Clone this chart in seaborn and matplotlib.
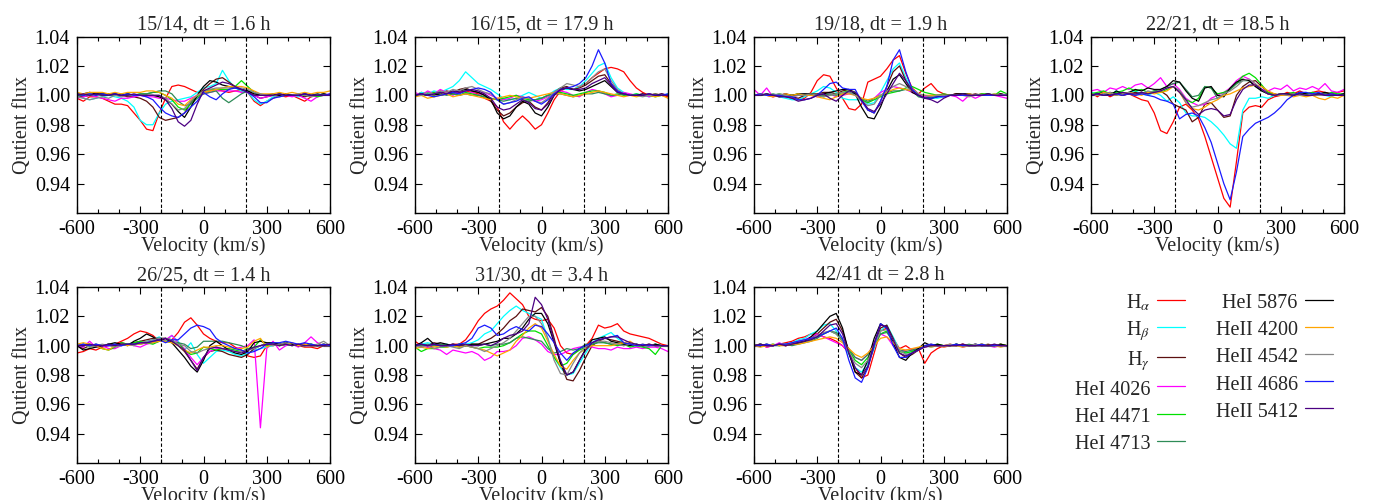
import numpy as np
import pandas as pd
import matplotlib
matplotlib.use("Agg")
import matplotlib.pyplot as plt
import seaborn as sns
from matplotlib.lines import Line2D
from matplotlib.ticker import MultipleLocator, FormatStrFormatter, FixedLocator

# ---------------- data ----------------
velocity = list(range(-600, 601, 30))  # km/s

line_keys = ["Ha", "Hb", "Hg", "HeI4026", "HeI4471", "HeI4713", "HeI5876",
             "HeII4200", "HeII4542", "HeII4686", "HeII5412"]
line_labels = ["H$_\\alpha$", "H$_\\beta$", "H$_\\gamma$", "HeI 4026", "HeI 4471",
               "HeI 4713", "HeI 5876", "HeII 4200", "HeII 4542", "HeII 4686", "HeII 5412"]
line_colors = ["#ff0000", "#00ffff", "#5c1010", "#ff00ff", "#00e000", "#2e8b57",
               "#000000", "#ffa500", "#888888", "#1a1aff", "#4b0082"]

panel_titles = ["15/14, dt = 1.6 h", "16/15, dt = 17.9 h", "19/18, dt = 1.9 h",
                "22/21, dt = 18.5 h", "26/25, dt = 1.4 h", "31/30, dt = 3.4 h",
                "42/41 dt = 2.8 h"]

# quotient flux deviations from 1, in units of 0.001 (per mille)
p15_14 = {
    "Ha":       [-2,-4,-1,-1,-2,-4,-6,-6,-7,-12, -17,-23,-24,-12,-2,6,7,6,4,2, 1, 3,4,3,2,3,3,2,-4,-7,-4, -2,0,-1,0,-2,-4,-1,0,1,0],
    "Hb":       [0,-2,-3,-2,-1,0,-1,-2,-4,-8, -17,-20,-20,-12,-6,-4,-3,-2,-1,2, 5, 6,8,17,10,5,3,2,-3,-6,-4, -1,0,1,0,-1,0,0,1,0,0],
    "Hg":       [0,-1,0,1,0,1,0,0,-1,-1, -2,-4,-8,-15,-17,-16,-15,-12,-5,0, 4, 8,11,12,9,6,4,3,0,-2,-1, 0,0,1,0,0,-1,0,1,0,0],
    "HeI4026":  [-2,-1,0,-1,-2,-3,-4,-2,-2,-1, 0,-1,-1,-2,-2,-3,-4,-4,-2,0, 1, 2,3,3,3,3,2,2,0,-2,-1, 0,1,0,-1,0,-2,-4,-1,0,1],
    "HeI4471":  [0,1,0,1,0,0,1,0,1,0, 1,1,2,2,0,-3,-8,-10,-6,-1, 2, 4,4,4,4,6,10,6,2,0,0, 0,1,0,0,1,0,0,-1,0,0],
    "HeI4713":  [0,0,1,0,1,0,0,1,0,0, 1,1,2,3,3,1,-4,-7,-6,-2, 1, 2,3,-2,-5,-2,1,3,2,0,0, 0,1,0,0,0,1,0,0,1,0],
    "HeI5876":  [1,1,2,1,1,1,1,0,1,0, 0,0,0,-1,-3,-6,-11,-15,-8,0, 6, 10,9,7,6,5,4,3,1,0,0, 1,0,1,0,0,1,0,0,1,0],
    "HeII4200": [2,1,2,2,2,1,2,1,2,2, 2,3,3,2,0,-2,-6,-7,-3,0, 2, 3,4,5,6,6,6,5,3,1,1, 1,2,1,2,1,2,1,2,2,3],
    "HeII4542": [-1,-2,-3,-2,-1,-2,0,-1,0,0, 0,0,0,0,-2,-6,-10,-9,-4,0, 3, 4,5,5,5,5,5,4,2,1,0, 0,-1,0,0,1,0,-1,0,0,0],
    "HeII4686": [1,0,1,0,1,0,1,0,1,0, 0,-1,-3,-8,-12,-14,-15,-12,-8,-4, 2, -1,-3,1,4,5,4,2,-1,-5,-5, -2,-1,0,0,0,1,0,0,0,1],
    "HeII5412": [0,1,0,1,0,0,1,0,0,1, 0,0,0,0,-3,-9,-18,-21,-17,-6, 3, 5,7,9,8,6,4,2,0,0,0, 0,1,0,0,0,1,0,0,0,0],
}

p16_15 = {
    "Ha":       [0,2,1,0,3,2,1,2,3,2, 1,-2,-4,-8,-18,-23,-18,-14,-18,-23, -20, -12,-3,3,5,4,6,8,12,15,18, 19,18,16,10,5,2,0,1,0,-1],
    "Hb":       [0,2,1,3,2,4,6,10,16,12, 8,6,4,1,-2,-3,-2,0,2,0, -2, 0,3,5,4,4,6,10,15,20,22, 12,5,2,0,1,0,-1,0,0,1],
    "Hg":       [0,1,0,2,1,3,2,4,5,3, 2,0,-4,-10,-14,-12,-8,-5,-4,-8, -10, -5,2,5,6,4,5,7,10,13,14, 8,3,1,0,0,0,1,0,0,0],
    "HeI4026":  [2,0,3,1,4,2,0,3,1,2, 0,2,0,-2,-3,-2,0,-1,-3,-4, -3, -1,2,3,2,0,-1,2,4,3,1, -1,0,2,1,0,1,-1,0,1,0],
    "HeI4471":  [0,1,0,2,0,1,1,0,2,1, 0,-1,-2,-3,-2,-1,0,-2,-3,-3, -2, 0,1,2,1,0,1,2,3,3,2, 0,1,0,0,1,0,0,-1,0,0],
    "HeI4713":  [0,0,1,0,1,0,1,0,1,0, 0,-1,-2,-3,-4,-3,-2,-3,-4,-3, -2, 0,1,1,0,-1,0,1,1,2,1, 0,0,1,0,0,0,0,1,0,0],
    "HeI5876":  [0,1,0,1,0,1,2,3,4,3, 2,0,-3,-12,-16,-14,-8,-4,-6,-12, -14, -8,0,4,5,4,3,4,6,8,10, 6,2,1,0,0,1,0,0,1,0],
    "HeII4200": [-1,0,-2,-1,0,1,-1,0,1,0, -1,-2,-3,-2,-1,0,-1,-2,-2,-1, 0, 1,2,1,0,-1,0,1,2,3,2, 1,0,-1,0,-1,0,0,-1,0,-2],
    "HeII4542": [1,0,2,1,3,2,4,3,5,6, 4,2,1,-3,-6,-5,-3,-1,-2,-4, -5, -2,2,5,8,7,6,8,12,16,18, 10,4,1,0,0,-1,0,0,0,0],
    "HeII4686": [0,1,0,-1,0,1,2,1,3,4, 5,4,2,-3,-6,-5,-4,-2,-1,-4, -6, -3,1,4,5,6,8,12,20,31,22, 8,3,1,0,0,0,1,0,0,1],
    "HeII5412": [0,1,0,1,2,1,3,2,3,4, 3,1,-2,-8,-10,-9,-6,-3,-5,-9, -10, -6,0,4,5,4,4,5,8,10,12, 7,2,1,0,0,0,1,0,0,0],
}

p19_18 = {
    "Ha":       [0,1,0,-1,0,-1,-2,-3,-2,2, 10,14,13,5,-2,-9,-10,-6,9,11, 13, 18,24,27,15,5,1,5,8,3,1, 0,1,1,0,0,1,0,0,0,0],
    "Hb":       [0,0,1,0,-1,-2,-3,-3,-1,1, 3,6,5,2,-2,-3,-3,-3,-6,-5, 2, 10,18,22,12,4,1,-1,-2,-2,-1, 0,0,1,0,0,0,0,1,0,0],
    "Hg":       [0,1,0,0,-1,0,-1,-2,0,1, 1,2,2,1,3,4,2,-3,-10,-12, -4, 6,16,20,10,3,0,-1,-1,0,0, 0,1,0,0,1,0,0,0,1,0],
    "HeI4026":  [4,0,5,-1,0,1,-1,0,1,0, -1,0,1,-1,0,1,1,-3,-5,-2, 2, 4,6,5,4,2,0,-1,0,0,-1, 0,-1,-4,0,-2,0,1,0,-1,-2],
    "HeI4471":  [0,1,0,0,1,0,0,1,0,1, 0,-1,0,1,2,3,2,-3,-5,-3, -1, 1,2,3,5,6,4,2,1,0,1, 0,0,1,0,0,1,1,0,3,1],
    "HeI4713":  [0,0,0,1,0,0,0,0,1,0, 0,0,1,0,1,2,1,-2,-4,-2, 0, 2,3,3,4,3,-1,-2,-1,0,0, 0,0,1,0,0,0,0,0,0,0],
    "HeI5876":  [0,0,1,0,0,1,0,1,1,1, 0,1,2,3,4,4,1,-8,-15,-16, -8, 3,11,14,8,2,0,-2,-2,-1,0, 0,1,1,1,0,0,1,0,1,0],
    "HeII4200": [0,1,0,-1,0,1,0,1,0,0, -1,-2,-3,-1,1,1,0,-2,-3,-2, 0, 2,4,5,4,3,1,0,0,0,0, 0,0,0,1,0,0,0,1,0,0],
    "HeII4542": [0,1,0,0,1,0,-1,0,0,1, 0,-1,0,1,2,2,0,-4,-7,-6, 0, 3,6,8,6,3,1,0,-1,0,0, 0,0,0,-1,0,0,0,0,0,1],
    "HeII4686": [0,1,0,0,0,-1,-1,-3,-3,-2, 0,4,8,9,5,4,4,-4,-10,-12, -4, 6,24,31,16,4,0,-2,-2,-1,-1, 0,0,0,0,0,0,0,0,0,0],
    "HeII5412": [0,0,1,0,-1,-1,-2,-4,-3,-2, 0,1,-2,-4,0,3,2,-3,-9,-11, -6, 1,8,15,10,3,0,-2,-3,-5,-2, 0,0,1,0,0,0,1,0,0,0],
}

p22_21 = {
    "Ha":       [2,-1,2,-1,1,0,1,-1,-3,-4, -12,-24,-26,-18,-8,-6,-10,-16,-28,-42, -56, -70,-76,-45,-12,-8,-7,-8,-3,-1,0, 2,1,3,1,2,3,2,1,2,3],
    "Hb":       [2,1,2,0,3,1,2,3,1,0, 2,0,-4,-1,-5,-12,-14,-14,-15,-18, -22, -27,-33,-36,-10,-2,-2,-1,-2,0,0, 1,0,1,2,0,1,0,-1,1,0],
    "Hg":       [0,1,0,2,1,0,1,2,1,2, 2,3,0,-6,-8,-10,-18,-15,-6,-5, -10, -15,-14,0,6,9,10,6,2,1,0, 1,0,1,0,1,0,1,0,0,1],
    "HeI4026":  [3,4,2,5,4,6,4,7,8,5, 8,12,6,8,4,-2,-5,-7,-6,-2, 0, 2,5,10,13,11,7,4,3,5,4, 7,3,5,4,6,4,8,3,2,4],
    "HeI4471":  [1,2,3,1,2,3,5,3,4,2, 3,2,4,6,3,-3,-5,-2,6,5, 1, 2,4,8,13,15,12,7,2,0,1, 1,2,0,1,2,1,0,2,1,1],
    "HeI4713":  [0,1,0,1,0,2,1,0,2,1, 3,4,6,8,9,4,-1,0,6,5, -2, 1,4,8,10,10,6,3,1,0,1, 0,1,0,0,1,0,1,0,0,1],
    "HeI5876":  [0,1,2,0,3,1,2,4,3,5, 4,4,6,10,9,3,-2,-4,5,6, 0, -1,5,9,11,10,6,3,1,0,1, 1,0,2,1,0,1,2,1,0,1],
    "HeII4200": [1,0,2,1,0,1,2,1,0,2, 1,2,3,6,2,-5,-9,-10,-8,-5, -3, 0,1,3,5,6,7,6,3,1,0, 0,-1,0,-1,0,-2,-3,-1,-2,0],
    "HeII4542": [1,0,1,2,0,1,2,0,1,3, 2,3,5,6,3,-5,-8,-7,-5,-3, -2, 1,3,6,10,11,8,4,1,0,1, 0,1,0,0,1,0,0,1,0,0],
    "HeII4686": [0,1,0,0,1,0,1,0,1,0, -1,-3,-4,-6,-16,-13,-12,-14,-22,-32, -46, -60,-71,-52,-28,-23,-19,-17,-15,-12,-8, -3,0,2,2,1,2,0,1,0,0],
    "HeII5412": [0,1,0,0,1,2,1,1,2,1, 2,3,5,6,2,-3,-9,-13,-10,-9, -10, -14,-13,-3,4,7,7,4,1,0,1, 1,0,1,0,0,1,0,0,0,0],
}

p26_25 = {
    "Ha":       [-5,-4,-2,-3,-1,0,1,3,5,8, 10,9,7,3,3,4,9,16,19,14, 8, 5,3,2,2,-1,-3,-7,-8,-7,0, 0,1,1,1,0,-1,-1,-2,0,0],
    "Hb":       [0,1,0,1,0,1,1,0,1,2, 2,3,4,6,3,7,3,-3,2,-6, -12, -8,-4,-3,-4,-6,-7,-5,-3,-2,-1, 0,1,0,1,0,0,1,0,0,0],
    "Hg":       [0,-2,0,1,0,1,0,2,1,2, 3,4,5,5,5,4,0,-4,-10,-16, -8, -4,-3,-4,-6,-7,-8,-6,-2,0,1, 1,0,1,1,0,0,1,0,0,0],
    "HeI4026":  [0,-1,3,-1,0,-2,-2,0,1,0, -1,1,2,3,4,7,2,-2,-8,-13, -8, -4,-2,-2,-3,-2,-1,0,4,-56,-2, 3,-3,0,1,-1,2,6,2,0,0],
    "HeI4471":  [0,1,-1,0,-2,-3,-1,2,1,2, 3,2,1,3,3,2,2,-3,-6,-5, -1, -2,-3,-2,-2,-3,-4,-2,-1,4,0, 1,0,1,0,1,0,1,0,1,0],
    "HeI4713":  [0,0,1,0,0,1,0,1,1,1, 1,2,2,3,3,3,2,1,-2,-1, 3, 3,3,3,2,1,0,-2,-2,0,1, 1,1,2,1,0,1,0,0,0,0],
    "HeI5876":  [0,-3,-2,-1,0,1,2,1,0,3, 5,8,6,3,5,2,-3,-8,-14,-18, -10, 0,3,0,-3,-5,-6,-4,2,3,2, 2,1,2,1,0,1,0,0,1,0],
    "HeII4200": [1,2,1,0,-2,-3,0,1,0,1, 1,2,2,3,3,2,0,-3,-5,-3, -1, -1,0,0,-1,-2,-2,-1,3,5,-1, 1,0,1,2,0,1,0,0,1,0],
    "HeII4542": [0,1,-1,0,1,0,-1,0,1,0, 2,3,4,5,5,4,1,0,-4,-5, -3, -2,-1,-2,-3,-4,-4,-3,-2,0,1, 0,1,2,0,1,0,0,1,3,0],
    "HeII4686": [0,1,0,1,0,0,1,0,1,1, 2,2,3,4,2,4,4,8,12,14, 13, 11,5,2,0,-2,-3,-5,-4,-2,1, 2,2,3,2,1,2,1,0,1,0],
    "HeII5412": [0,0,1,0,0,1,0,1,1,1, 2,2,3,4,5,3,0,-3,-10,-17, -8, -2,-1,-2,-3,-4,-5,-3,-1,0,1, 1,0,1,0,1,0,0,0,0,1],
}

p31_30 = {
    "Ha":       [3,0,-1,0,0,0,1,1,4,10, 17,22,25,27,31,36,32,28,20,18, 17, 18,12,0,-5,-6,-2,0,5,14,12, 13,15,10,8,7,6,5,3,1,0],
    "Hb":       [0,1,2,1,0,1,0,1,1,2, 4,8,10,15,20,24,27,24,22,20, 18, 5,-8,-15,-20,-19,-12,-5,2,5,7, 9,5,2,0,1,0,0,1,0,0],
    "Hg":       [0,1,0,2,1,0,1,0,0,1, 1,3,5,8,12,17,20,25,24,23, 26, 20,5,-12,-23,-24,-17,-8,0,3,5, 4,3,2,1,0,0,1,0,0,0],
    "HeI4026":  [-1,0,-1,-2,-3,-6,-3,-4,-5,-4, -6,-10,-8,-4,-4,-3,0,5,6,4, 1, -4,-6,-6,-4,-2,-1,0,-1,-2,-2, -3,-1,-2,-2,-1,-2,-1,-1,-2,-4],
    "HeI4471":  [-1,-4,-2,-2,-1,-1,0,-1,0,-1, -2,-1,-1,-1,0,2,5,8,10,10, 8, 0,-8,-14,-12,-6,-3,-1,1,3,2, 1,0,1,-1,0,-1,-2,-6,0,0],
    "HeI4713":  [0,0,1,0,1,0,1,0,0,1, 0,1,0,1,1,2,5,6,5,4, 3, -2,-5,-4,-2,-3,-2,1,1,2,2, 1,1,0,1,0,0,0,1,0,0],
    "HeI5876":  [0,2,5,1,2,1,0,1,0,1, 1,1,2,3,5,5,8,12,18,22, 22, 15,2,-12,-20,-18,-10,-2,4,5,6, 3,2,1,0,1,0,0,1,0,0],
    "HeII4200": [-2,-1,-2,-1,0,-1,0,-1,0,-1, -2,-3,-5,-7,-5,-3,3,7,12,15, 12, 3,-6,-14,-16,-10,-5,-2,0,0,0, 0,1,2,3,0,1,0,0,0,0],
    "HeII4542": [0,-1,0,-2,-1,0,-1,-2,0,-1, -2,-4,-2,0,2,5,10,15,20,20, 15, 5,-10,-19,-20,-12,-5,-1,2,3,3, 2,1,0,1,0,0,1,0,0,0],
    "HeII4686": [0,1,0,1,0,0,0,1,2,5, 12,14,12,7,8,11,13,11,10,14, 13, 8,2,-5,-10,-5,-2,0,2,4,5, 6,7,2,1,0,1,0,0,0,0],
    "HeII5412": [0,1,0,1,0,0,1,0,1,0, 0,1,0,2,5,7,8,10,15,33, 28, 18,3,-10,-20,-18,-10,-3,2,4,5, 6,6,4,2,1,0,1,0,0,0],
}

p42_41 = {
    "Ha":       [0,1,-1,0,1,2,3,5,6,8, 8,6,5,3,0,-5,-15,-22,-20,-5, 10, 12,5,-2,0,-3,-2,-12,-5,-2,0, 1,0,1,0,0,1,0,0,1,0],
    "Hb":       [0,1,0,1,0,1,2,4,5,8, 10,14,15,10,3,-6,-15,-18,-12,-2, 10, 14,6,-3,-5,-4,-2,0,-1,0,0, 0,1,0,0,1,0,0,0,0,0],
    "Hg":       [0,0,1,0,1,0,1,2,3,5, 8,12,16,18,10,-4,-18,-22,-15,0, 12, 14,5,-5,-8,-6,-3,0,1,0,0, 0,0,1,0,0,0,1,0,0,0],
    "HeI4026":  [0,1,-1,0,2,0,1,3,4,6, 8,6,4,2,0,-4,-8,-10,-6,2, 8, 6,0,-4,-3,-2,-2,-1,0,0,-1, 0,1,-1,0,1,0,0,-1,0,0],
    "HeI4471":  [0,1,0,1,0,1,1,2,3,4, 6,8,10,8,3,-3,-10,-13,-8,0, 8, 10,3,-4,-5,-4,-2,0,0,1,0, 0,1,0,0,0,1,0,0,1,0],
    "HeI4713":  [0,0,1,0,0,1,0,1,2,3, 5,8,10,9,4,-2,-8,-10,-6,1, 8, 9,3,-3,-4,-3,-2,0,0,0,0, 0,0,0,1,0,0,0,0,0,0],
    "HeI5876":  [0,1,0,0,1,0,1,2,3,6, 10,15,20,22,12,-5,-18,-20,-10,5, 15, 12,2,-8,-10,-5,-2,2,0,1,0, 0,1,0,0,1,0,0,0,1,0],
    "HeII4200": [0,-1,0,1,0,0,1,1,2,3, 4,5,6,5,2,-2,-6,-8,-5,0, 5, 6,2,-2,-3,-2,-1,0,-1,0,-1, 0,0,-1,0,0,1,0,0,-1,0],
    "HeII4542": [0,1,0,0,1,1,2,3,4,5, 7,9,10,8,3,-4,-12,-15,-10,0, 10, 11,4,-3,-6,-5,-3,-1,0,0,0, 1,0,0,0,1,0,0,1,0,0],
    "HeII4686": [0,0,1,0,1,1,2,3,4,5, 6,8,10,12,5,-10,-22,-25,-15,0, 15, 12,0,-8,-8,-5,-3,0,1,0,0, 0,1,0,0,0,1,0,0,0,0],
    "HeII5412": [0,1,0,0,1,0,1,2,3,4, 6,10,14,15,8,-5,-15,-20,-14,2, 14, 13,4,-5,-7,-5,-3,-1,0,0,0, 0,0,1,0,0,0,0,1,0,0],
}

panels = [p15_14, p16_15, p19_18, p22_21, p26_25, p31_30, p42_41]

# ---------------- style ----------------
sns.set_theme(style="ticks")
plt.rcParams["font.family"] = ["Liberation Serif", "DejaVu Serif"]
plt.rcParams["mathtext.fontset"] = "stix"
plt.rcParams["axes.unicode_minus"] = False

FS = 14.5
W, H = 1373, 500
fig = plt.figure(figsize=(W / 100, H / 100), dpi=100)

col_left = [77, 415, 754, 1091]
ax_w = 253
rows = [(36.5, 213), (287, 463)]

palette = dict(zip(line_labels, line_colors))

for i, (data, title) in enumerate(zip(panels, panel_titles)):
    r, c = divmod(i, 4)
    top, bot = rows[r]
    ax = fig.add_axes([col_left[c] / W, 1 - bot / H, ax_w / W, (bot - top) / H])
    frames = []
    for key, lab in zip(line_keys, line_labels):
        vals = data[key]
        assert len(vals) == len(velocity), (title, key, len(vals))
        frames.append(pd.DataFrame({"Velocity": velocity,
                                    "flux": 1 + np.array(vals) / 1000.0,
                                    "line": lab}))
    df = pd.concat(frames, ignore_index=True)
    sns.lineplot(data=df, x="Velocity", y="flux", hue="line", hue_order=line_labels,
                 palette=palette, estimator=None, sort=False, legend=False,
                 linewidth=0.9, ax=ax)
    for xv in (-200, 200):
        ax.axvline(xv, color="black", linestyle=(0, (3, 2)), linewidth=0.8, zorder=5)
    ax.set_xlim(-600, 600)
    ax.set_ylim(0.92, 1.04)
    ax.xaxis.set_major_locator(FixedLocator([-600, -300, 0, 300, 600]))
    ax.xaxis.set_minor_locator(MultipleLocator(100))
    ax.yaxis.set_major_locator(FixedLocator([0.94, 0.96, 0.98, 1.00, 1.02, 1.04]))
    ax.yaxis.set_major_formatter(FormatStrFormatter("%.2f"))
    ax.xaxis.set_major_formatter(FormatStrFormatter("%d"))
    ax.tick_params(which="both", direction="in", top=True, right=True,
                   labelsize=FS, colors="black", pad=5)
    ax.tick_params(which="major", length=5, width=0.8)
    ax.tick_params(which="minor", length=3, width=0.8)
    for sp in ax.spines.values():
        sp.set_linewidth(1.0)
        sp.set_color("black")
    ax.set_title(title, fontsize=FS, pad=5)
    ax.set_xlabel("Velocity (km/s)", fontsize=FS, labelpad=-2)
    ax.set_ylabel("Qutient flux", fontsize=FS, labelpad=2)

handles = [Line2D([], [], color=col, linewidth=0.9) for col in line_colors]
fig.legend(handles, line_labels, ncol=2, markerfirst=False, frameon=False,
           loc="upper right", bbox_to_anchor=(1333 / W, 1 - 291 / H),
           fontsize=FS, handlelength=1.4, handletextpad=0.35, handleheight=1.2,
           columnspacing=1.5, labelspacing=0.25, borderpad=0, borderaxespad=0)

fig.savefig("out.png", dpi=100)
